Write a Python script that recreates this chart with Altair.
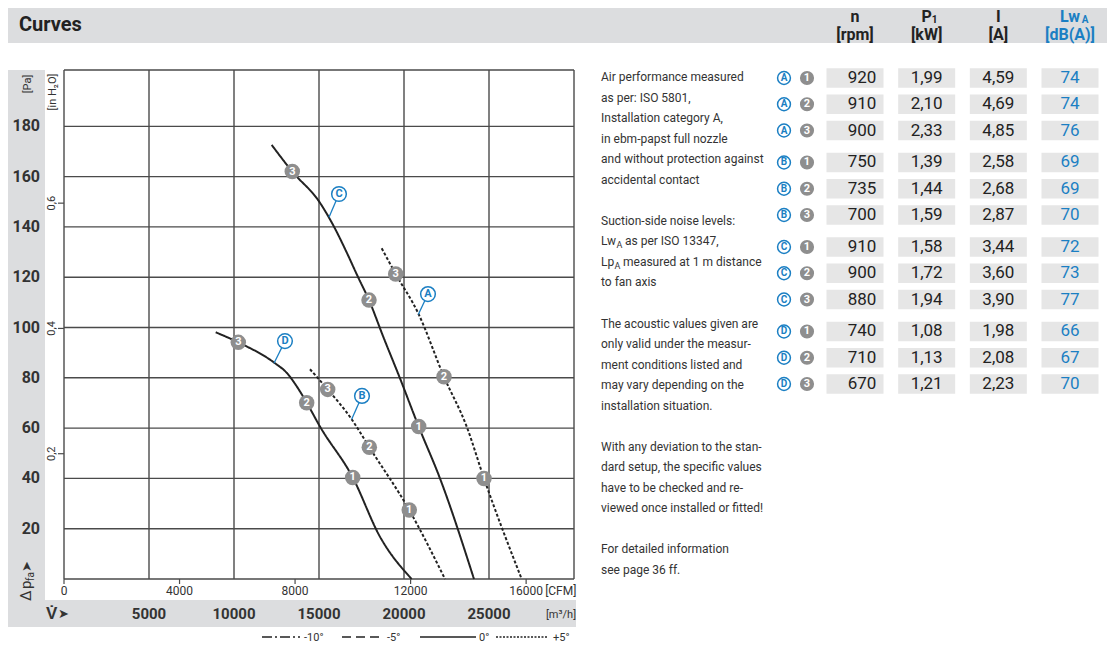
import altair as alt
import pandas as pd

FONT = "Roboto, Liberation Sans, sans-serif"
BLUE = "#1b7fc3"
DARK = "#222222"
TXT = "#333333"
MARK_GRAY = "#8e8e8e"
BAND = "#dcdddf"
CELL = "#e6e6e6"
GRID = "#4a4a4a"

# ---------------- data ----------------
# characteristic curves: volume flow [m3/h], static pressure [Pa]
A_q = [18688, 19511, 20841, 22353, 23688, 24706, 26920]
A_p = [131.5, 121.3, 105.6, 80.4, 60.6, 40.0, 0.0]
B_q = [14470, 15511, 16923, 17960, 20310, 22412]
B_p = [83.4, 75.4, 63.5, 52.4, 27.4, 0.0]
C_q = [12218, 13429, 15017, 15882, 16647, 17294, 17941, 18782, 19764, 20864, 22117, 24117]
C_p = [172.6, 162.0, 150.0, 140.1, 129.6, 120.1, 110.9, 96.3, 79.8, 60.6, 40.0, 0.0]
D_q = [8923, 10253, 12412, 13100, 13700, 14276, 15059, 16982, 18588, 20452]
D_p = [98.1, 94.1, 85.8, 82.0, 76.5, 70.1, 60.6, 40.4, 16.8, 0.0]
curve_style = {"A": "+5°", "B": "+5°", "C": "0°", "D": "0°"}

# operating points
op_curve = ["A", "A", "A", "B", "B", "B", "C", "C", "C", "D", "D", "D"]
op_num = [1, 2, 3, 1, 2, 3, 1, 2, 3, 1, 2, 3]
op_q = [24706, 22353, 19511, 20310, 17960, 15511, 20864, 17941, 13429, 16982, 14276, 10253]
op_p = [40.0, 80.4, 121.3, 27.4, 52.4, 75.4, 60.6, 110.9, 162.0, 40.4, 70.1, 94.1]

# curve name labels and their leader lines
lab_curve = ["A", "B", "C", "D"]
lab_q = [21411, 17529, 16176, 12999]
lab_p = [113.3, 72.8, 153.1, 94.6]
lead_q = [20841, 16923, 15588, 12353]
lead_p = [105.2, 63.5, 143.8, 85.8]

# axes
grid_q = [0, 5000, 10000, 15000, 20000, 25000, 30000]
grid_p = [0, 20, 40, 60, 80, 100, 120, 140, 160, 180]
pa_ticks = [20, 40, 60, 80, 100, 120, 140, 160, 180]
m3h_ticks = [5000, 10000, 15000, 20000, 25000]
cfm_ticks = [0, 4000, 8000, 12000, 16000]
inh2o_ticks = [0.2, 0.4, 0.6]
inh2o_labels = ["0,2", "0,4", "0,6"]

# table
tbl_curve = ["A", "A", "A", "B", "B", "B", "C", "C", "C", "D", "D", "D"]
tbl_op = [1, 2, 3, 1, 2, 3, 1, 2, 3, 1, 2, 3]
n_rpm = ["920", "910", "900", "750", "735", "700", "910", "900", "880", "740", "710", "670"]
p1_kw = ["1,99", "2,10", "2,33", "1,39", "1,44", "1,59", "1,58", "1,72", "1,94", "1,08", "1,13", "1,21"]
i_a = ["4,59", "4,69", "4,85", "2,58", "2,68", "2,87", "3,44", "3,60", "3,90", "1,98", "2,08", "2,23"]
lwa_db = ["74", "74", "76", "69", "69", "70", "72", "73", "77", "66", "67", "70"]
cols = ["n", "P1", "I", "LwA"]
head_top = ["n", "P", "I", "Lw"]
head_unit = ["[rpm]", "[kW]", "[A]", "[dB(A)]"]

panel_lines = [
    "Air performance measured", "as per: ISO 5801,", "Installation category A,",
    "in ebm-papst full nozzle", "and without protection against", "accidental contact", "",
    "Suction-side noise levels:", "Lw", "Lp", "to fan axis", "",
    "The acoustic values given are", "only valid under the measur-", "ment conditions listed and",
    "may vary depending on the", "installation situation.", "",
    "With any deviation to the stan-", "dard setup, the specific values",
    "have to be checked and re-", "viewed once installed or fitted!", "",
    "For detailed information", "see page 36 ff.",
]
sub_line = [8, 9]
sub_rest = ["as per ISO 13347,", "measured at 1 m distance"]

# ---------------- scales ----------------
Q_MAX = 30000
P_TOP = 202.4
M3H_PER_CFM = 1.69901
PA_PER_INH2O = 249.089
X_RANGE = [56, 566]
Y_RANGE = [571, 62]

Q_SCALE = alt.Scale(domain=[0, Q_MAX], range=X_RANGE, nice=False, zero=False)
P_SCALE = alt.Scale(domain=[0, P_TOP], range=Y_RANGE, nice=False, zero=False)
CFM_SCALE = alt.Scale(domain=[0, Q_MAX / M3H_PER_CFM], range=X_RANGE, nice=False, zero=False)
IN_SCALE = alt.Scale(domain=[0, P_TOP / PA_PER_INH2O], range=Y_RANGE, nice=False, zero=False)


def QX(f):
    return alt.X(f, type="quantitative", scale=Q_SCALE, axis=None)


def PY(f):
    return alt.Y(f, type="quantitative", scale=P_SCALE, axis=None)


ONE = pd.DataFrame({"k": [0]})


def txt(s, x, y, **kw):
    kw.setdefault("font", FONT)
    kw.setdefault("color", TXT)
    return alt.Chart(ONE).mark_text(text=s, **kw).encode(x=alt.value(x), y=alt.value(y))


def box(x, x2, y, y2, color):
    return alt.Chart(ONE).mark_rect(color=color).encode(
        x=alt.value(x), x2=alt.value(x2), y=alt.value(y), y2=alt.value(y2))


def seg(x, x2, y, dash, width=1.5):
    return alt.Chart(ONE).mark_rule(color=DARK, strokeWidth=width, strokeDash=dash).encode(
        x=alt.value(x), x2=alt.value(x2), y=alt.value(y))


# ---------------- left plot ----------------
rows = []
for name, qs, ps in [("A", A_q, A_p), ("B", B_q, B_p), ("C", C_q, C_p), ("D", D_q, D_p)]:
    for q, p in zip(qs, ps):
        rows.append({"curve": name, "style": curve_style[name], "q": q, "p": p})
curve_df = pd.DataFrame(rows)

grid_v = alt.Chart(pd.DataFrame({"q": grid_q, "p0": 0.0, "p1": P_TOP})).mark_rule(
    color=GRID, strokeWidth=1.4).encode(x=QX("q"), y=PY("p0"), y2="p1")
grid_h = alt.Chart(pd.DataFrame({"p": grid_p + [P_TOP], "q0": 0, "q1": Q_MAX})).mark_rule(
    color=GRID, strokeWidth=1.4).encode(y=PY("p"), x=QX("q0"), x2="q1")

curves = alt.Chart(curve_df).mark_line(interpolate="monotone", color=DARK, strokeWidth=2).encode(
    x=QX("q"), y=PY("p"), detail="curve:N",
    strokeDash=alt.StrokeDash("style:N", scale=alt.Scale(domain=["0°", "+5°"], range=[[1, 0], [3, 2]]), legend=None),
)

lab_df = pd.DataFrame({"curve": lab_curve, "q": lab_q, "p": lab_p, "eq": lead_q, "ep": lead_p})
leaders = alt.Chart(lab_df).mark_rule(color=BLUE, strokeWidth=1.3).encode(
    x=QX("q"), y=PY("p"), x2="eq", y2="ep")
lab_circ = alt.Chart(lab_df).mark_point(shape="circle", filled=True, fill="white", stroke=BLUE,
                                        strokeWidth=1.5, size=215, opacity=1).encode(x=QX("q"), y=PY("p"))
lab_txt = alt.Chart(lab_df).mark_text(font=FONT, fontSize=11, fontWeight="bold", color=BLUE).encode(
    x=QX("q"), y=PY("p"), text="curve:N")

op_df = pd.DataFrame({"curve": op_curve, "num": op_num, "q": op_q, "p": op_p})
op_circ = alt.Chart(op_df).mark_point(shape="circle", filled=True, color=MARK_GRAY, size=240, opacity=1).encode(
    x=QX("q"), y=PY("p"))
op_txt = alt.Chart(op_df).mark_text(font=FONT, fontSize=11, fontWeight="bold", color="white").encode(
    x=QX("q"), y=PY("p"), text="num:N")

pa_lab = alt.Chart(pd.DataFrame({"p": pa_ticks})).mark_text(
    font=FONT, fontSize=16, fontWeight="bold", color=TXT, align="right").encode(
    x=alt.value(32), y=PY("p"), text="p:Q")
m3h_lab = alt.Chart(pd.DataFrame({"q": m3h_ticks})).mark_text(
    font=FONT, fontSize=15, fontWeight="bold", color=TXT).encode(
    x=QX("q"), y=alt.value(606), text=alt.Text("q:Q", format="d"))

plot_group = alt.layer(grid_v, grid_h, curves, leaders, lab_circ, lab_txt, op_circ, op_txt, pa_lab, m3h_lab)

# in H2O axis
in_df = pd.DataFrame({"v": inh2o_ticks, "lab": inh2o_labels})
in_tick = alt.Chart(in_df).mark_rule(color=GRID, strokeWidth=1.2).encode(
    y=alt.Y("v:Q", scale=IN_SCALE, axis=None), x=alt.value(50), x2=alt.value(56))
in_lab = alt.Chart(in_df).mark_text(font=FONT, fontSize=11, angle=270, color=TXT).encode(
    y=alt.Y("v:Q", scale=IN_SCALE, axis=None), x=alt.value(44), text="lab:N")
in_group = alt.layer(in_tick, in_lab)

# CFM axis
cfm_df = pd.DataFrame({"c": cfm_ticks})
cfm_tick = alt.Chart(cfm_df).mark_rule(color=GRID, strokeWidth=1.2).encode(
    x=alt.X("c:Q", scale=CFM_SCALE, axis=None), y=alt.value(571), y2=alt.value(576))
cfm_lab = alt.Chart(cfm_df).mark_text(font=FONT, fontSize=12, color=TXT).encode(
    x=alt.X("c:Q", scale=CFM_SCALE, axis=None), y=alt.value(583), text=alt.Text("c:Q", format="d"))
cfm_unit = alt.Chart(cfm_df.tail(1)).mark_text(font=FONT, fontSize=12, color=TXT, align="left", dx=19,
                                              text="[CFM]").encode(
    x=alt.X("c:Q", scale=CFM_SCALE, axis=None), y=alt.value(583))
cfm_group = alt.layer(cfm_tick, cfm_lab, cfm_unit)

# ---------------- table ----------------
GROUP_GAP = 0.217
row_pos = ["ABCD".index(c) * (3 + GROUP_GAP) + (o - 1) for c, o in zip(tbl_curve, tbl_op)]
ROW_SCALE = alt.Scale(domain=[0, row_pos[-1]], range=[70, 376], nice=False, zero=False)
COL_SCALE = alt.Scale(type="point", domain=cols, range=[847, 1062], padding=0)

cell_rows = []
for i in range(len(tbl_curve)):
    for c, v in zip(cols, [n_rpm[i], p1_kw[i], i_a[i], lwa_db[i]]):
        cell_rows.append({"row": row_pos[i], "col": c, "val": v})
cell_df = pd.DataFrame(cell_rows)
row_df = pd.DataFrame({"row": row_pos, "curve": tbl_curve, "op": tbl_op})

TX = alt.X("col:N", scale=COL_SCALE, axis=None)
TY = alt.Y("row:Q", scale=ROW_SCALE, axis=None)

cells = alt.Chart(cell_df).mark_point(shape="M-1,-0.34L1,-0.34L1,0.34L-1,0.34Z", size=3249, filled=True,
                                      color=CELL, opacity=1).encode(x=TX, y=TY)
vals_n = alt.Chart(cell_df).transform_filter("datum.col == 'n'").mark_text(
    font=FONT, fontSize=17, color=DARK, dx=7).encode(x=TX, y=TY, text="val:N")
vals_o = alt.Chart(cell_df).transform_filter("datum.col != 'n'").mark_text(
    font=FONT, fontSize=17).encode(
    x=TX, y=TY, text="val:N",
    color=alt.condition("datum.col == 'LwA'", alt.value(BLUE), alt.value(DARK)))
let_circ = alt.Chart(row_df).mark_point(shape="circle", filled=True, fill="white", stroke=BLUE, strokeWidth=1.5,
                                        size=165, opacity=1).encode(x=alt.value(776), y=TY)
let_txt = alt.Chart(row_df).mark_text(font=FONT, fontSize=10, fontWeight="bold", color=BLUE).encode(
    x=alt.value(776), y=TY, text="curve:N")
num_circ = alt.Chart(row_df).mark_point(shape="circle", filled=True, color=MARK_GRAY, size=200, opacity=1).encode(
    x=alt.value(799), y=TY)
num_txt = alt.Chart(row_df).mark_text(font=FONT, fontSize=11, fontWeight="bold", color="white").encode(
    x=alt.value(799), y=TY, text="op:N")

head_df = pd.DataFrame({"col": cols, "top": head_top, "unit": head_unit})
HCOLOR = alt.condition("datum.col == 'LwA'", alt.value(BLUE), alt.value(DARK))
head1 = alt.Chart(head_df).mark_text(font=FONT, fontSize=16, fontWeight="bold").encode(
    x=TX, y=alt.value(9), text="top:N", color=HCOLOR)
head2 = alt.Chart(head_df).mark_text(font=FONT, fontSize=16, fontWeight="bold").encode(
    x=TX, y=alt.value(27), text="unit:N", color=HCOLOR)
sub_p = alt.Chart(head_df).transform_filter("datum.col == 'P1'").mark_text(
    font=FONT, fontSize=10, fontWeight="bold", color=DARK, dx=8, dy=3, text="1").encode(x=TX, y=alt.value(9))
sub_l = alt.Chart(head_df).transform_filter("datum.col == 'LwA'").mark_text(
    font=FONT, fontSize=10, fontWeight="bold", color=BLUE, dx=15, dy=3, text="A").encode(x=TX, y=alt.value(9))

table_group = alt.layer(cells, vals_n, vals_o, let_circ, let_txt, num_circ, num_txt, head1, head2, sub_p, sub_l)

# ---------------- notes text ----------------
LINE_SCALE = alt.Scale(domain=[0, len(panel_lines) - 1], range=[69, 562], nice=False, zero=False)
line_df = pd.DataFrame({"i": list(range(len(panel_lines))), "t": panel_lines})
LY = alt.Y("i:Q", scale=LINE_SCALE, axis=None)
notes = alt.Chart(line_df).mark_text(font=FONT, fontSize=12, color=TXT, align="left").encode(
    x=alt.value(593), y=LY, text="t:N")
sub_df = pd.DataFrame({"i": sub_line, "rest": sub_rest})
notes_layers = [notes]
for k, (dx_sub, dx_rest) in enumerate([(15.5, 24), (13.5, 22)]):
    part = sub_df.iloc[[k]]
    notes_layers.append(alt.Chart(part).mark_text(font=FONT, fontSize=9, color=TXT, align="left",
                                                  dx=dx_sub, dy=4, text="A").encode(x=alt.value(593), y=LY))
    notes_layers.append(alt.Chart(part).mark_text(font=FONT, fontSize=12, color=TXT, align="left",
                                                  dx=dx_rest).encode(x=alt.value(593), y=LY, text="rest:N"))
notes_group = alt.layer(*notes_layers)

# ---------------- frame decorations ----------------
decor = [
    box(0, 1099, 0, 35, BAND),
    box(0, 37, 62, 619, BAND),
    box(0, 568, 592, 619, BAND),
    txt("Curves", 11, 17, fontSize=20, fontWeight="bold", align="left", color=DARK),
    txt("[Pa]", 20, 76, fontSize=11, angle=270),
    txt("[in H₂O]", 45, 84, fontSize=11, angle=270),
    txt("Δ", 18, 593, fontSize=15, angle=270, align="left"),
    txt("p", 18, 581, fontSize=15, angle=270, align="left"),
    txt("fa", 23, 573, fontSize=10, angle=270, align="left"),
    txt("➤", 19, 564, fontSize=13, angle=270, align="left", font="DejaVu Sans"),
    txt("V̇", 38, 606, fontSize=17, fontWeight="bold", align="left"),
    txt("➤", 50, 606, fontSize=13, align="left", font="DejaVu Sans"),
    txt("[m³/h]", 553, 607, fontSize=11),
    seg(254, 292, 629, [10, 3, 2, 3]),
    txt("-10°", 296, 630, fontSize=11, align="left"),
    seg(334, 375, 629, [9, 5]),
    txt("-5°", 379, 630, fontSize=11, align="left"),
    seg(412, 468, 629, [1, 0]),
    txt("0°", 471, 630, fontSize=11, align="left"),
    seg(488, 540, 629, [2, 1.5], width=1.3),
    txt("+5°", 545, 630, fontSize=11, align="left"),
]

chart = alt.layer(
    *decor[:3], plot_group, in_group, cfm_group, table_group, notes_group, *decor[3:]
).resolve_scale(
    x="independent", y="independent", strokeDash="independent"
).properties(
    width=1099, height=644, padding=0, autosize=alt.AutoSizeParams(type="none")
).configure_view(stroke=None)

chart.save("out.html", embed_options={"renderer": "svg", "actions": False})
